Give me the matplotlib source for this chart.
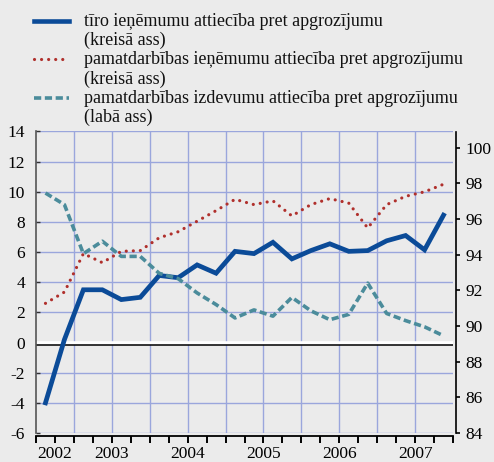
import matplotlib
matplotlib.use('Agg')
import matplotlib.pyplot as plt
import matplotlib.transforms as mtransforms
from matplotlib.lines import Line2D
import numpy as np
import pandas as pd

plt.rcParams['font.family'] = ['Liberation Serif', 'DejaVu Serif']
plt.rcParams['axes.unicode_minus'] = False

# ---------------- data ----------------
quarters = pd.period_range('2002Q3', '2007Q4', freq='Q')
net_income = [-4.0, 0.2, 3.5, 3.5, 2.85, 3.0, 4.45, 4.3, 5.15, 4.6, 6.05, 5.9,
              6.65, 5.55, 6.1, 6.55, 6.05, 6.1, 6.75, 7.1, 6.15, 8.45]
core_income = [2.6, 3.35, 5.9, 5.3, 6.05, 6.1, 6.95, 7.35, 8.05, 8.75, 9.5, 9.15,
               9.4, 8.4, 9.15, 9.55, 9.25, 7.6, 9.15, 9.7, 10.0, 10.5]
core_expense = [97.45, 96.8, 94.05, 94.75, 93.9, 93.9, 92.95, 92.65, 91.85, 91.2,
                90.45, 90.9, 90.55, 91.6, 90.85, 90.35, 90.65, 92.4, 90.7, 90.3,
                89.95, 89.45]
series_labels = [
    'tīro ieņēmumu attiecība pret apgrozījumu\n(kreisā ass)',
    'pamatdarbības ieņēmumu attiecība pret apgrozījumu\n(kreisā ass)',
    'pamatdarbības izdevumu attiecība pret apgrozījumu\n(labā ass)',
]
year_labels = ['2002', '2003', '2004', '2005', '2006', '2007']
left_ticks = list(range(-6, 15, 2))
right_ticks = list(range(84, 101, 2))

# ---------------- style ----------------
BG = '#ebebeb'
GRID = '#9aa6dc'
C_BLUE = '#0b4b98'
C_RED = '#b0302c'
C_TEAL = '#4b8c9b'
FS = 12.5
FS_LEG = 13

x = np.asarray(quarters.year + (quarters.quarter - 1) / 4 + 0.125, dtype=float)
xmin = float(quarters[0].year + (quarters[0].quarter - 1) / 4)
xmax = float(quarters[-1].year + quarters[-1].quarter / 4)

fig = plt.figure(figsize=(4.94, 4.62), dpi=100, facecolor=BG)
ax = fig.add_axes([36 / 494, 29 / 462, 417 / 494, 301.5 / 462])
ax.set_facecolor(BG)
ax.set_xlim(xmin, xmax)
ax.set_ylim(left_ticks[0], left_ticks[-1])
ax.set_axisbelow(True)

# grid
ax.set_yticks(left_ticks)
ax.yaxis.grid(True, color=GRID, lw=1)
for v in np.arange(np.ceil(xmin * 2) / 2, xmax, 0.5):
    if v > xmin:
        ax.axvline(v, color=GRID, lw=1, zorder=0.6)

# zero line: white band with black line below
ax.axhline(0, color='white', lw=2.6, zorder=1.2)
off = mtransforms.offset_copy(ax.get_yaxis_transform(), fig=fig, x=0, y=-2.5, units='dots')
ax.plot([0, 1], [0, 0], transform=off, color='black', lw=1.1, zorder=1.3)

# series
ax.plot(x, net_income, color=C_BLUE, lw=3.4, solid_joinstyle='miter', zorder=3)
ax.plot(x, core_income, color=C_RED, lw=2.3, linestyle=(0, (0.01, 2.2)),
        dash_capstyle='round', zorder=3)

ax2 = ax.twinx()
ax2.set_ylim(84, 100.9)
ax2.plot(x, core_expense, color=C_TEAL, lw=2.6, linestyle=(0, (2.0, 1.0)),
         dash_capstyle='butt', zorder=3)

# axes styling
for a in (ax, ax2):
    a.spines['top'].set_visible(False)
ax.spines['right'].set_visible(False)
ax2.spines['left'].set_visible(False)
ax2.spines['bottom'].set_visible(False)
ax.spines['left'].set_color('#555555')
ax.spines['left'].set_linewidth(1.2)
ax.spines['bottom'].set_color('black')
ax.spines['bottom'].set_linewidth(1.3)
ax.spines['bottom'].set_position(('outward', 2.5))
ax2.spines['right'].set_color('black')
ax2.spines['right'].set_linewidth(1.2)
ax2.spines['right'].set_position(('outward', 2))

ax.tick_params(axis='y', direction='in', length=3, width=1, color='#333333',
               labelsize=FS, pad=8, labelcolor='black')
ax.set_xticks(np.arange(xmin, xmax + 0.01, 0.25))
ax.set_xticklabels([])
ax.tick_params(axis='x', direction='out', length=5, width=1.4, color='black')

ax2.set_yticks(right_ticks)
ax2.tick_params(axis='y', direction='out', length=3, width=1.2, color='black',
                labelsize=FS, pad=4, labelcolor='black')

# year labels centred on the visible part of each year
xt = ax.get_xaxis_transform()
for lab in year_labels:
    yr = int(lab)
    lo, hi = max(yr, xmin), min(yr + 1, xmax)
    ax.text((lo + hi) / 2, -0.043, lab, transform=xt, ha='center', va='top',
            fontsize=FS, color='black')

# legend (manual, handle aligned with first text line)
handles = [
    dict(color=C_BLUE, lw=3.3, linestyle='-'),
    dict(color=C_RED, lw=2.3, linestyle=(0, (0.01, 2.2)), dash_capstyle='round'),
    dict(color=C_TEAL, lw=2.6, linestyle=(0, (2.0, 1.0)), dash_capstyle='butt'),
]
for i, (lab, hs) in enumerate(zip(series_labels, handles)):
    ytop = 13.0 + i * 38.5
    yh = 20.5 + i * 38.5
    fig.add_artist(Line2D([34 / 494, 69 / 494], [1 - yh / 462] * 2,
                          transform=fig.transFigure, **hs))
    fig.text(84 / 494, 1 - ytop / 462, lab, ha='left', va='top', fontsize=FS_LEG,
             color='#111111', linespacing=1.15)

fig.savefig('out.png', dpi=100, facecolor=BG)
